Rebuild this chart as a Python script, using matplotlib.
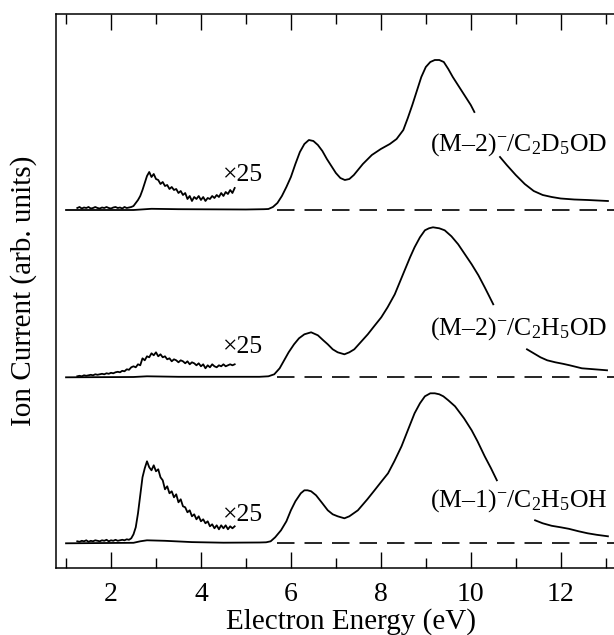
import numpy as np
import matplotlib
matplotlib.use("Agg")
import matplotlib.pyplot as plt
from matplotlib.ticker import MultipleLocator

plt.rcParams["font.family"] = ["Liberation Serif", "DejaVu Serif"]
plt.rcParams["mathtext.fontset"] = "custom"
plt.rcParams["mathtext.rm"] = "Liberation Serif"
plt.rcParams["mathtext.it"] = "Liberation Serif:italic"

# ---- data (ion current, arb. units) ----
labels = [r"(M–1)$^{-}$/C$_2$H$_5$OH",
          r"(M–2)$^{-}$/C$_2$H$_5$OD",
          r"(M–2)$^{-}$/C$_2$D$_5$OD"]

# main spectra, part below the label gap
e_bot = [1.0, 2.5, 2.65, 2.8, 3.2, 3.8, 4.5, 5.3, 5.45, 5.55, 5.65, 5.78, 5.9, 6.0, 6.1,
         6.22, 6.3, 6.37, 6.45, 6.56, 6.7, 6.82, 6.93, 7.04, 7.19, 7.3, 7.49, 7.7,
         7.86, 8.0, 8.16, 8.3, 8.46, 8.6, 8.75, 8.87, 8.98, 9.1, 9.2, 9.3, 9.39,
         9.5, 9.65, 9.85, 10.02, 10.15, 10.31, 10.45, 10.58]
i_bot = [0, 0.5, 2, 3, 2.5, 1.2, 0.6, 0.8, 1, 2, 6, 13, 22, 33, 42,
         50, 53, 53, 52, 48, 40, 33, 29, 27, 25, 27, 33, 44,
         53, 61, 70, 82, 97, 113, 130, 140, 147, 150, 150, 149, 147,
         143, 137, 125, 113, 102, 87, 75, 63]

e_mid = [1.0, 2.5, 2.8, 3.5, 5.3, 5.5, 5.63, 5.75, 5.85, 5.95, 6.07, 6.18, 6.3, 6.45,
         6.6, 6.72, 6.82, 6.93, 7.04, 7.19, 7.3, 7.41, 7.55, 7.71, 7.85, 8.01,
         8.15, 8.31, 8.42, 8.53, 8.65, 8.75, 8.87, 8.98, 9.07, 9.16, 9.3, 9.42,
         9.57, 9.72, 9.87, 10.02, 10.17, 10.31, 10.4, 10.5]
i_mid = [0, 0.3, 1, 0.5, 0.5, 1, 3, 9, 17, 25, 33, 39, 43, 45,
         42, 37, 33, 28, 25, 23, 25, 28, 35, 43, 51, 60,
         70, 83, 95, 107, 120, 130, 140, 147, 149, 150, 149, 147,
         141, 133, 123, 113, 102, 90, 82, 73]

e_top = [1.0, 2.5, 2.9, 3.5, 5.0, 5.4, 5.5, 5.6, 5.7, 5.8, 5.9, 6.0, 6.1, 6.2, 6.3, 6.4,
         6.5, 6.6, 6.7, 6.8, 6.9, 7.0, 7.1, 7.2, 7.3, 7.4, 7.6, 7.8, 8.0, 8.2,
         8.35, 8.5, 8.6, 8.7, 8.8, 8.9, 9.0, 9.1, 9.2, 9.3, 9.4, 9.5, 9.6,
         9.7, 9.8, 9.9, 10.0, 10.08]
i_top = [0, 0, 1.2, 0.8, 0.5, 0.8, 1, 3, 7, 14, 23, 33, 46, 58, 66, 70,
         69, 65, 59, 51, 44, 37, 32, 30, 31, 35, 46, 55, 61, 66,
         71, 80, 92, 105, 119, 133, 143, 148, 150, 150, 148, 141, 133,
         126, 119, 112, 105, 98]

# high-energy tails, right of the labels
e_bot_tail = [11.43, 11.6, 11.8, 12.0, 12.18, 12.4, 12.6, 12.8, 13.05]
i_bot_tail = [23, 20, 17.5, 16, 14.5, 12, 10, 8.5, 7]
e_mid_tail = [11.25, 11.4, 11.55, 11.7, 11.88, 12.05, 12.2, 12.47, 12.75, 13.03]
i_mid_tail = [28, 24, 20, 17, 15, 13.5, 12, 9, 8, 7]
e_top_tail = [10.65, 10.8, 11.0, 11.2, 11.4, 11.6, 11.8, 12.0, 12.3, 12.6, 13.05]
i_top_tail = [53, 45, 35, 26, 19, 15, 13, 11.5, 10.5, 10, 9]

# low-energy region magnified x25
e_x25 = np.round(np.arange(1.25, 4.76, 0.05), 2)
i_bot_x25 = [2, 1.5, 2.5, 2, 3, 1.5, 2.5, 2, 3, 2.5, 2, 3, 2.5, 3.5, 2, 3, 2.5, 3.5, 2.5, 3,
             3.5, 3, 4, 3.5, 5,
             9, 16, 30, 48, 66, 75, 82, 76, 73, 78,
             72, 74, 66, 63, 54, 57, 50, 52, 46, 49,
             41, 44, 37, 36, 31, 33, 27, 29, 24, 27,
             22, 24, 20, 22, 17, 19, 15, 18, 14, 18,
             15, 18, 14, 17, 15, 17]
i_mid_x25 = [1, 1.5, 1, 2, 1.5, 2, 2.5, 2, 3, 2.5, 3, 3.5, 3, 4, 3.5, 4.5, 4, 5, 5.5, 5,
             6.5, 6, 8, 7.5, 10,
             11, 10, 13, 12, 19, 17, 21, 20, 24, 22,
             25, 21, 23, 20, 21, 18, 19, 16, 18, 17,
             15, 17, 16, 14, 16, 13, 15, 14, 12, 14,
             11, 13, 9, 12, 10, 13, 11, 10, 12, 11,
             13, 11, 12, 13, 12, 13]
i_top_x25 = [2, 3, 1.5, 2.5, 2, 3, 1.5, 2, 3, 2, 1.5, 2.5, 2, 3, 2, 1.5, 2.5, 3, 2, 2.5,
             1.5, 3, 2, 2.5, 3,
             4, 7, 10, 14, 20, 27, 34, 38, 33, 36,
             31, 30, 26, 28, 24, 25, 21, 23, 20, 21,
             17, 19, 15, 17, 11, 14, 9, 13, 11, 14,
             10, 13, 9, 12, 11, 14, 12, 15, 13, 17,
             14, 18, 16, 20, 17, 22]

# ---- layout ----
offsets = [24.7, 190.7, 358.0]
label_h = [43, 49, 65]
x25_h = [28, 30, 35]

fig = plt.figure(figsize=(6.14, 6.35), dpi=100)
ax = fig.add_axes([55.7 / 614, 67 / 635, 1 - 55.7 / 614, 554 / 635])

spectra = [
    (e_bot, i_bot, e_bot_tail, i_bot_tail, i_bot_x25),
    (e_mid, i_mid, e_mid_tail, i_mid_tail, i_mid_x25),
    (e_top, i_top, e_top_tail, i_top_tail, i_top_x25),
]
for k, (e, i, et, it, ix) in enumerate(spectra):
    off = offsets[k]
    ax.plot(e, np.array(i) + off, color="black", lw=1.3)
    ax.plot(et, np.array(it) + off, color="black", lw=1.3)
    ax.plot(e_x25, np.array(ix) + off, color="black", lw=1.3)
    ax.plot([5.7, 13.3], [off, off], color="black", lw=1.2,
            dashes=(10.5, 6.0))
    ax.text(13.05, off + label_h[k], labels[k], ha="right", va="center", fontsize=18.5)
    ax.text(4.5, off + x25_h[k], "×25", ha="left", va="center", fontsize=18.5)

ax.set_xlim(0.77, 13.185)
ax.set_ylim(0, 554)
ax.xaxis.set_major_locator(MultipleLocator(2))
ax.xaxis.set_minor_locator(MultipleLocator(1))
ax.tick_params(axis="x", which="both", direction="in", top=True, bottom=True,
               labelsize=20, pad=10, width=1.0)
ax.tick_params(axis="x", which="major", length=11.5)
ax.tick_params(axis="x", which="minor", length=7)
ax.set_yticks([])
ax.spines["right"].set_visible(False)
for s in ["left", "top", "bottom"]:
    ax.spines[s].set_linewidth(1.1)

ax.set_xlabel("Electron Energy (eV)", fontsize=21)
ax.xaxis.set_label_coords(0.529, -0.072)
ax.set_ylabel("Ion Current (arb. units)", fontsize=21)
ax.yaxis.set_label_coords(-0.033, 0.5)

fig.savefig("out.png", dpi=100)
